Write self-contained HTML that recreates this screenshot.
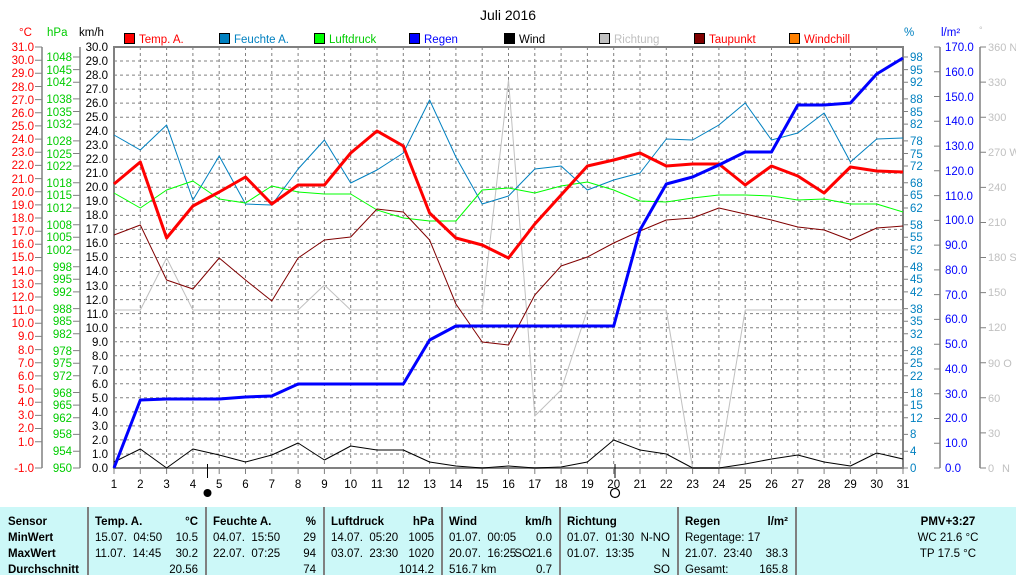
<!DOCTYPE html>
<html><head><meta charset="utf-8"><style>
body{margin:0;background:#fff;width:1016px;height:575px;overflow:hidden}
svg{display:block;font-family:"Liberation Sans",sans-serif;font-size:11.5px}
</style></head><body>
<svg width="1016" height="575" viewBox="0 0 1016 575" xmlns="http://www.w3.org/2000/svg">
<rect width="1016" height="575" fill="#fff"/>
<text x="508" y="20" text-anchor="middle" font-size="14">Juli 2016</text>
<text x="19" y="36" fill="#f00">°C</text>
<text x="47" y="36" fill="#0c0">hPa</text>
<text x="79" y="36" fill="#000">km/h</text>
<text x="904" y="36" fill="#0080c0">%</text>
<text x="941" y="36" fill="#00f">l/m²</text>
<text x="979" y="33" fill="#c0c0c0" font-size="9">°</text>
<g font-size="11.5">
<rect x="124.5" y="33.5" width="10" height="10" fill="#f00" stroke="#000"/><text x="139" y="43" fill="#f00">Temp. A.</text>
<rect x="219.5" y="33.5" width="10" height="10" fill="#0080c0" stroke="#000"/><text x="234" y="43" fill="#0080c0">Feuchte A.</text>
<rect x="314.5" y="33.5" width="10" height="10" fill="#0f0" stroke="#000"/><text x="329" y="43" fill="#0c0">Luftdruck</text>
<rect x="409.5" y="33.5" width="10" height="10" fill="#00f" stroke="#000"/><text x="424" y="43" fill="#00f">Regen</text>
<rect x="504.5" y="33.5" width="10" height="10" fill="#000" stroke="#000"/><text x="519" y="43" fill="#000">Wind</text>
<rect x="599.5" y="33.5" width="10" height="10" fill="#c0c0c0" stroke="#000"/><text x="614" y="43" fill="#c0c0c0">Richtung</text>
<rect x="694.5" y="33.5" width="10" height="10" fill="#800000" stroke="#000"/><text x="709" y="43" fill="#f00">Taupunkt</text>
<rect x="789.5" y="33.5" width="10" height="10" fill="#ff8000" stroke="#000"/><text x="804" y="43" fill="#f00">Windchill</text>
</g>
<g stroke="#808080" stroke-width="1" stroke-dasharray="3,3">
<path d="M114 61H903M114 75.1H903M114 89.1H903M114 103.1H903M114 117.2H903M114 131.2H903M114 145.2H903M114 159.3H903M114 173.3H903M114 187.3H903M114 201.4H903M114 215.4H903M114 229.4H903M114 243.5H903M114 257.5H903M114 271.5H903M114 285.6H903M114 299.6H903M114 313.6H903M114 327.7H903M114 341.7H903M114 355.7H903M114 369.8H903M114 383.8H903M114 397.8H903M114 411.9H903M114 425.9H903M114 439.9H903M114 454H903"/>
<path d="M140.3 47V468M166.6 47V468M192.9 47V468M219.2 47V468M245.5 47V468M271.8 47V468M298.1 47V468M324.4 47V468M350.7 47V468M377 47V468M403.3 47V468M429.6 47V468M455.9 47V468M482.2 47V468M508.5 47V468M534.8 47V468M561.1 47V468M587.4 47V468M613.7 47V468M640 47V468M666.3 47V468M692.6 47V468M718.9 47V468M745.2 47V468M771.5 47V468M797.8 47V468M824.1 47V468M850.4 47V468M876.7 47V468"/>
</g>
<rect x="114" y="47" width="789" height="421" fill="none" stroke="#808080" stroke-width="2"/>
<g stroke="#808080" stroke-width="1.5" fill="none">
<path d="M42 47V468M80 47V468M940 47V468M980 47V468"/>
</g>
<g fill="#f00" text-anchor="end">
<text x="34" y="51">31.0</text><text x="34" y="64">30.0</text><text x="34" y="77">29.0</text><text x="34" y="91">28.0</text><text x="34" y="104">27.0</text><text x="34" y="117">26.0</text><text x="34" y="130">25.0</text><text x="34" y="143">24.0</text><text x="34" y="156">23.0</text><text x="34" y="169">22.0</text><text x="34" y="183">21.0</text><text x="34" y="196">20.0</text><text x="34" y="209">19.0</text><text x="34" y="222">18.0</text><text x="34" y="235">17.0</text><text x="34" y="248">16.0</text><text x="34" y="261">15.0</text><text x="34" y="275">14.0</text><text x="34" y="288">13.0</text><text x="34" y="301">12.0</text><text x="34" y="314">11.0</text><text x="34" y="327">10.0</text><text x="34" y="340">9.0</text><text x="34" y="354">8.0</text><text x="34" y="367">7.0</text><text x="34" y="380">6.0</text><text x="34" y="393">5.0</text><text x="34" y="406">4.0</text><text x="34" y="419">3.0</text><text x="34" y="432">2.0</text><text x="34" y="446">1.0</text><text x="34" y="472">-1.0</text>
</g>
<g stroke="#808080"><path d="M35 47H42M35 60.2H42M35 73.3H42M35 86.5H42M35 99.6H42M35 112.8H42M35 125.9H42M35 139.1H42M35 152.2H42M35 165.4H42M35 178.6H42M35 191.7H42M35 204.9H42M35 218H42M35 231.2H42M35 244.3H42M35 257.5H42M35 270.7H42M35 283.8H42M35 297H42M35 310.1H42M35 323.3H42M35 336.4H42M35 349.6H42M35 362.7H42M35 375.9H42M35 389H42M35 402.2H42M35 415.4H42M35 428.5H42M35 441.7H42M35 468H42"/>
<path d="M73 57H80M73 69.6H80M73 82.2H80M73 98.9H80M73 111.5H80M73 124.1H80M73 140.9H80M73 153.5H80M73 166H80M73 182.8H80M73 195.4H80M73 208H80M73 224.7H80M73 237.3H80M73 249.9H80M73 266.7H80M73 279.3H80M73 291.9H80M73 308.6H80M73 321.2H80M73 333.8H80M73 350.6H80M73 363.2H80M73 375.7H80M73 392.5H80M73 405.1H80M73 417.7H80M73 434.4H80M73 451.2H80M73 468H80"/>
<path d="M903 57H908M903 69.6H908M903 82.2H908M903 98.9H908M903 111.5H908M903 124.1H908M903 140.9H908M903 153.5H908M903 166H908M903 182.8H908M903 195.4H908M903 208H908M903 224.7H908M903 237.3H908M903 249.9H908M903 266.7H908M903 279.3H908M903 291.9H908M903 308.6H908M903 321.2H908M903 333.8H908M903 350.6H908M903 363.2H908M903 375.7H908M903 392.5H908M903 405.1H908M903 417.7H908M903 434.4H908M903 451.2H908M903 468H908"/>
<path d="M934 47H940M934 71.8H940M934 96.5H940M934 121.3H940M934 146.1H940M934 170.8H940M934 195.6H940M934 220.4H940M934 245.1H940M934 269.9H940M934 294.6H940M934 319.4H940M934 344.2H940M934 369H940M934 393.7H940M934 418.5H940M934 443.2H940M934 468H940"/>
<path d="M980 47H986M980 82.1H986M980 117.3H986M980 152.3H986M980 187.4H986M980 222.5H986M980 257.5H986M980 292.6H986M980 327.7H986M980 362.8H986M980 397.8H986M980 432.9H986M980 468H986"/>
<path d="M114 468V474M140.3 468V474M166.6 468V474M192.9 468V474M219.2 468V474M245.5 468V474M271.8 468V474M298.1 468V474M324.4 468V474M350.7 468V474M377 468V474M403.3 468V474M429.6 468V474M455.9 468V474M482.2 468V474M508.5 468V474M534.8 468V474M561.1 468V474M587.4 468V474M613.7 468V474M640 468V474M666.3 468V474M692.6 468V474M718.9 468V474M745.2 468V474M771.5 468V474M797.8 468V474M824.1 468V474M850.4 468V474M876.7 468V474M903 468V474"/>
</g>
<g fill="#0c0" text-anchor="end">
<text x="72" y="61">1048</text><text x="72" y="74">1045</text><text x="72" y="86">1042</text><text x="72" y="103">1038</text><text x="72" y="116">1035</text><text x="72" y="128">1032</text><text x="72" y="145">1028</text><text x="72" y="158">1025</text><text x="72" y="170">1022</text><text x="72" y="187">1018</text><text x="72" y="199">1015</text><text x="72" y="212">1012</text><text x="72" y="229">1008</text><text x="72" y="241">1005</text><text x="72" y="254">1002</text><text x="72" y="271">998</text><text x="72" y="283">995</text><text x="72" y="296">992</text><text x="72" y="313">988</text><text x="72" y="325">985</text><text x="72" y="338">982</text><text x="72" y="355">978</text><text x="72" y="367">975</text><text x="72" y="380">972</text><text x="72" y="397">968</text><text x="72" y="409">965</text><text x="72" y="422">962</text><text x="72" y="438">958</text><text x="72" y="455">954</text><text x="72" y="472">950</text>
</g>
<g fill="#000" text-anchor="end">
<text x="108" y="51">30.0</text><text x="108" y="65">29.0</text><text x="108" y="79">28.0</text><text x="108" y="93">27.0</text><text x="108" y="107">26.0</text><text x="108" y="121">25.0</text><text x="108" y="135">24.0</text><text x="108" y="149">23.0</text><text x="108" y="163">22.0</text><text x="108" y="177">21.0</text><text x="108" y="191">20.0</text><text x="108" y="205">19.0</text><text x="108" y="219">18.0</text><text x="108" y="233">17.0</text><text x="108" y="247">16.0</text><text x="108" y="261">15.0</text><text x="108" y="275">14.0</text><text x="108" y="290">13.0</text><text x="108" y="304">12.0</text><text x="108" y="318">11.0</text><text x="108" y="332">10.0</text><text x="108" y="346">9.0</text><text x="108" y="360">8.0</text><text x="108" y="374">7.0</text><text x="108" y="388">6.0</text><text x="108" y="402">5.0</text><text x="108" y="416">4.0</text><text x="108" y="430">3.0</text><text x="108" y="444">2.0</text><text x="108" y="458">1.0</text><text x="108" y="472">0.0</text>
</g>
<g fill="#0080c0">
<text x="910" y="61">98</text><text x="910" y="74">95</text><text x="910" y="86">92</text><text x="910" y="103">88</text><text x="910" y="116">85</text><text x="910" y="128">82</text><text x="910" y="145">78</text><text x="910" y="158">75</text><text x="910" y="170">72</text><text x="910" y="187">68</text><text x="910" y="199">65</text><text x="910" y="212">62</text><text x="910" y="229">58</text><text x="910" y="241">55</text><text x="910" y="254">52</text><text x="910" y="271">48</text><text x="910" y="283">45</text><text x="910" y="296">42</text><text x="910" y="313">38</text><text x="910" y="325">35</text><text x="910" y="338">32</text><text x="910" y="355">28</text><text x="910" y="367">25</text><text x="910" y="380">22</text><text x="910" y="397">18</text><text x="910" y="409">15</text><text x="910" y="422">12</text><text x="910" y="438">8</text><text x="910" y="455">4</text><text x="910" y="472">0</text>
</g>
<g fill="#00f">
<text x="945" y="51">170.0</text><text x="945" y="76">160.0</text><text x="945" y="101">150.0</text><text x="945" y="125">140.0</text><text x="945" y="150">130.0</text><text x="945" y="175">120.0</text><text x="945" y="200">110.0</text><text x="945" y="224">100.0</text><text x="945" y="249">90.0</text><text x="945" y="274">80.0</text><text x="945" y="299">70.0</text><text x="945" y="323">60.0</text><text x="945" y="348">50.0</text><text x="945" y="373">40.0</text><text x="945" y="398">30.0</text><text x="945" y="422">20.0</text><text x="945" y="447">10.0</text><text x="945" y="472">0.0</text>
</g>
<g fill="#c0c0c0" font-size="11">
<text x="988" y="51">360 N</text><text x="988" y="86">330</text><text x="988" y="121">300</text><text x="988" y="156">270 W</text><text x="988" y="191">240</text><text x="988" y="226">210</text><text x="988" y="261">180 S</text><text x="988" y="296">150</text><text x="988" y="331">120</text><text x="988" y="367">90 O</text><text x="988" y="402">60</text><text x="988" y="437">30</text><text x="988" y="472">0</text><text x="1002" y="472">N</text>
</g>
<g text-anchor="middle" fill="#000">
<text x="114" y="488">1</text><text x="140.3" y="488">2</text><text x="166.6" y="488">3</text><text x="192.9" y="488">4</text><text x="219.2" y="488">5</text><text x="245.5" y="488">6</text><text x="271.8" y="488">7</text><text x="298.1" y="488">8</text><text x="324.4" y="488">9</text><text x="350.7" y="488">10</text><text x="377" y="488">11</text><text x="403.3" y="488">12</text><text x="429.6" y="488">13</text><text x="455.9" y="488">14</text><text x="482.2" y="488">15</text><text x="508.5" y="488">16</text><text x="534.8" y="488">17</text><text x="561.1" y="488">18</text><text x="587.4" y="488">19</text><text x="613.7" y="488">20</text><text x="640" y="488">21</text><text x="666.3" y="488">22</text><text x="692.6" y="488">23</text><text x="718.9" y="488">24</text><text x="745.2" y="488">25</text><text x="771.5" y="488">26</text><text x="797.8" y="488">27</text><text x="824.1" y="488">28</text><text x="850.4" y="488">29</text><text x="876.7" y="488">30</text><text x="903" y="488">31</text>
</g>
<path d="M207.5 464V478M615 464V478" stroke="#000" stroke-width="1"/>
<circle cx="207.5" cy="493" r="4" fill="#000"/>
<circle cx="615" cy="493" r="4.5" fill="none" stroke="#000" stroke-width="1.2"/>
<g fill="none" stroke-linejoin="round">
<polyline stroke="#c0c0c0" stroke-width="1" points="114,310 140.3,310 166.6,258 192.9,310 219.2,310 245.5,310 271.8,310 298.1,310 324.4,285 350.7,310 377,310 403.3,310 429.6,310 455.9,310 482.2,310 508.5,80 534.8,416 561.1,390 587.4,310 613.7,310 640,310 666.3,310 692.6,468 718.9,468 745.2,310 771.5,310 797.8,310 824.1,310 850.4,310 876.7,310 903,310"/>
<polyline stroke="#0080c0" stroke-width="1" points="114,135 140.3,150 166.6,125 192.9,200 219.2,156 245.5,204 271.8,205 298.1,169 324.4,140 350.7,183 377,170 403.3,153 429.6,100 455.9,157 482.2,204 508.5,196 534.8,169 561.1,166 587.4,190 613.7,180 640,173 666.3,139 692.6,140 718.9,125 745.2,103 771.5,140 797.8,133 824.1,113 850.4,162 876.7,139 903,138"/>
<polyline stroke="#0f0" stroke-width="1" points="114,193 140.3,208 166.6,190 192.9,181 219.2,199 245.5,203 271.8,186 298.1,192 324.4,194 350.7,194 377,210 403.3,218 429.6,221 455.9,221 482.2,190 508.5,188 534.8,193 561.1,186 587.4,182 613.7,190 640,201 666.3,202 692.6,198 718.9,195 745.2,195 771.5,196 797.8,200 824.1,199 850.4,204 876.7,204 903,212"/>
<polyline stroke="#800000" stroke-width="1" points="114,235 140.3,225 166.6,280 192.9,289 219.2,258 245.5,280 271.8,301 298.1,258 324.4,240 350.7,237 377,209 403.3,212 429.6,240 455.9,304 482.2,342 508.5,345 534.8,295 561.1,266 587.4,257 613.7,243 640,231 666.3,220 692.6,218 718.9,208 745.2,214 771.5,220 797.8,227 824.1,230 850.4,240 876.7,228 903,226"/>
<polyline stroke="#000" stroke-width="1" points="114,462 140.3,449 166.6,468 192.9,449 219.2,455 245.5,462 271.8,455 298.1,443 324.4,460 350.7,446 377,450 403.3,450 429.6,462 455.9,466 482.2,468 508.5,466 534.8,468 561.1,467 587.4,462 613.7,440 640,450 666.3,454 692.6,468 718.9,468 745.2,464 771.5,459 797.8,455 824.1,462 850.4,466 876.7,453 903,459"/>
<polyline stroke="#f00" stroke-width="3" points="114,184 140.3,162 166.6,238 192.9,206 219.2,192 245.5,177 271.8,204 298.1,185 324.4,185 350.7,153 377,131 403.3,146 429.6,213 455.9,238 482.2,245 508.5,258 534.8,224 561.1,195 587.4,166 613.7,160 640,153 666.3,166 692.6,164 718.9,164 745.2,185 771.5,166 797.8,176 824.1,193 850.4,167 876.7,171 903,172"/>
<polyline stroke="#00f" stroke-width="3" points="114,468 140.3,400 166.6,399 192.9,399 219.2,399 245.5,397 271.8,396 298.1,384 324.4,384 350.7,384 377,384 403.3,384 429.6,340 455.9,326 482.2,326 508.5,326 534.8,326 561.1,326 587.4,326 613.7,326 640,230 666.3,184 692.6,177 718.9,165 745.2,152 771.5,152 797.8,105 824.1,105 850.4,103 876.7,74 903,58"/>
</g>
<rect x="0" y="507" width="1016" height="68" fill="#ccf8f8"/>
<g stroke="#808080" stroke-width="2"><path d="M88 507V575M206 507V575M324 507V575M442 507V575M560 507V575M678 507V575M796 507V575"/></g>
<g font-weight="bold" fill="#000">
<text x="8" y="525">Sensor</text><text x="8" y="541">MinWert</text><text x="8" y="557">MaxWert</text><text x="8" y="573">Durchschnitt</text>
<text x="95" y="525">Temp. A.</text><text x="198" y="525" text-anchor="end">°C</text>
<text x="213" y="525">Feuchte A.</text><text x="316" y="525" text-anchor="end">%</text>
<text x="331" y="525">Luftdruck</text><text x="434" y="525" text-anchor="end">hPa</text>
<text x="449" y="525">Wind</text><text x="552" y="525" text-anchor="end">km/h</text>
<text x="567" y="525">Richtung</text>
<text x="685" y="525">Regen</text><text x="788" y="525" text-anchor="end">l/m²</text>
<text x="948" y="525" text-anchor="middle">PMV+3:27</text>
</g>
<g fill="#000">
<text x="95" y="541" xml:space="preserve">15.07.  04:50</text><text x="198" y="541" text-anchor="end">10.5</text>
<text x="95" y="557" xml:space="preserve">11.07.  14:45</text><text x="198" y="557" text-anchor="end">30.2</text>
<text x="198" y="573" text-anchor="end">20.56</text>
<text x="213" y="541" xml:space="preserve">04.07.  15:50</text><text x="316" y="541" text-anchor="end">29</text>
<text x="213" y="557" xml:space="preserve">22.07.  07:25</text><text x="316" y="557" text-anchor="end">94</text>
<text x="316" y="573" text-anchor="end">74</text>
<text x="331" y="541" xml:space="preserve">14.07.  05:20</text><text x="434" y="541" text-anchor="end">1005</text>
<text x="331" y="557" xml:space="preserve">03.07.  23:30</text><text x="434" y="557" text-anchor="end">1020</text>
<text x="434" y="573" text-anchor="end">1014.2</text>
<text x="449" y="541" xml:space="preserve">01.07.  00:05</text><text x="552" y="541" text-anchor="end">0.0</text>
<text x="449" y="557" xml:space="preserve">20.07.  16:25</text><text x="531" y="557" text-anchor="end">SO</text><text x="552" y="557" text-anchor="end">21.6</text>
<text x="449" y="573">516.7 km</text><text x="552" y="573" text-anchor="end">0.7</text>
<text x="567" y="541" xml:space="preserve">01.07.  01:30</text><text x="670" y="541" text-anchor="end">N-NO</text>
<text x="567" y="557" xml:space="preserve">01.07.  13:35</text><text x="670" y="557" text-anchor="end">N</text>
<text x="670" y="573" text-anchor="end">SO</text>
<text x="685" y="541">Regentage: 17</text>
<text x="685" y="557" xml:space="preserve">21.07.  23:40</text><text x="788" y="557" text-anchor="end">38.3</text>
<text x="685" y="573">Gesamt:</text><text x="788" y="573" text-anchor="end">165.8</text>
<text x="948" y="541" text-anchor="middle">WC 21.6 °C</text>
<text x="948" y="557" text-anchor="middle">TP 17.5 °C</text>
</g>
</svg>
</body></html>
